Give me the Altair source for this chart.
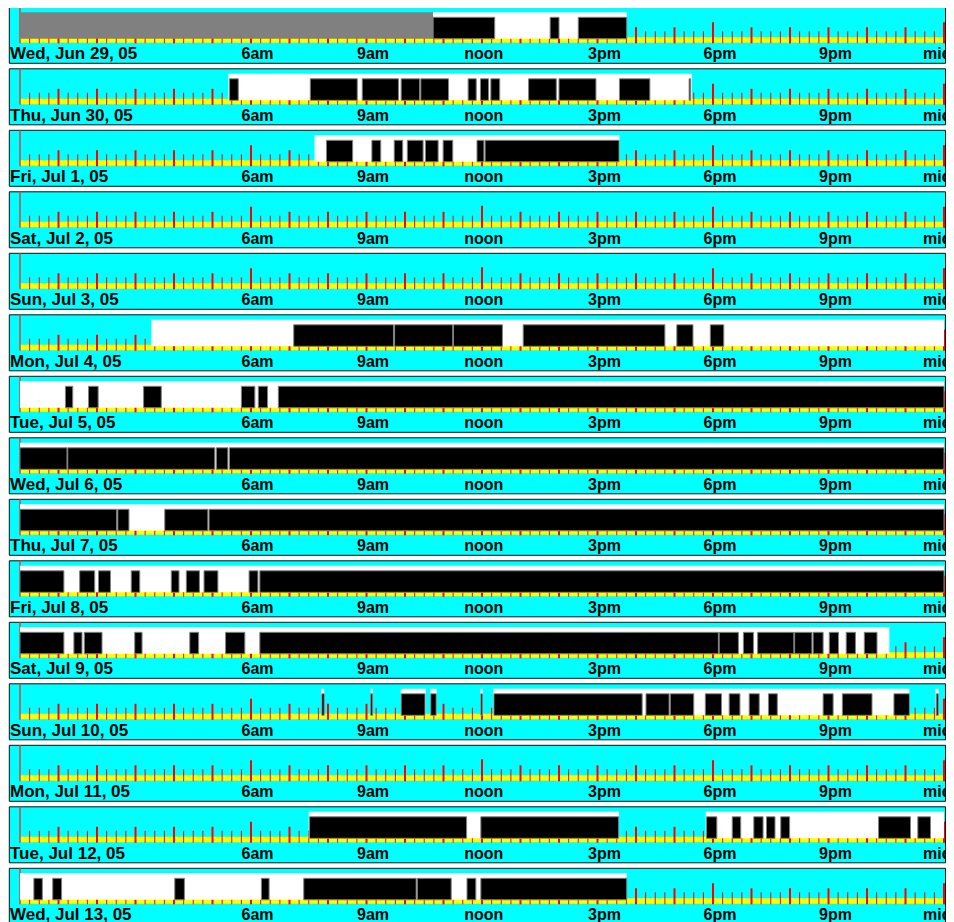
import altair as alt
import pandas as pd

days = ["Wed, Jun 29, 05", "Thu, Jun 30, 05", "Fri, Jul 1, 05", "Sat, Jul 2, 05",
        "Sun, Jul 3, 05", "Mon, Jul 4, 05", "Tue, Jul 5, 05", "Wed, Jul 6, 05",
        "Thu, Jul 7, 05", "Fri, Jul 8, 05", "Sat, Jul 9, 05", "Sun, Jul 10, 05",
        "Mon, Jul 11, 05", "Tue, Jul 12, 05", "Wed, Jul 13, 05"]

# hours of day (0-24)
gray_spans = {0: [(0.02, 10.73)]}

white_spans = {
    0: [(10.73, 15.76)],
    1: [(5.41, 17.45)],
    2: [(7.65, 15.57)],
    5: [(3.41, 24.0)],
    6: [(0.0, 24.0)],
    7: [(0.0, 24.0)],
    8: [(0.0, 24.0)],
    9: [(0.0, 24.0)],
    10: [(0.0, 22.58)],
    11: [(7.82, 7.9), (9.11, 9.17), (9.89, 10.54), (10.66, 10.82), (11.96, 12.02),
         (12.29, 23.1), (23.78, 23.86)],
    13: [(7.5, 15.56), (17.81, 24.0)],
    14: [(0.0, 15.76)],
}

black_spans = {
    0: [(10.73, 12.33), (13.77, 14.0), (14.5, 15.76)],
    1: [(5.44, 5.67), (7.54, 8.76), (8.89, 9.83), (9.9, 10.38), (10.41, 11.13),
        (11.64, 11.85), (11.96, 12.17), (12.23, 12.46), (13.21, 13.93), (14.0, 14.96),
        (15.57, 16.36), (17.38, 17.42)],
    2: [(7.96, 8.64), (9.14, 9.37), (9.72, 9.94), (10.06, 10.47), (10.53, 10.86),
        (10.99, 11.24), (11.87, 12.05), (12.08, 15.56)],
    5: [(7.11, 9.7), (9.73, 11.24), (11.26, 12.53), (13.07, 16.75), (17.06, 17.48),
        (17.93, 18.28)],
    6: [(1.18, 1.37), (1.78, 2.03), (3.21, 3.67), (5.75, 6.1), (6.19, 6.43), (6.71, 24.0)],
    7: [(0.0, 1.22), (1.24, 5.06), (5.1, 5.4), (5.44, 24.0)],
    8: [(0.0, 2.51), (2.54, 2.83), (3.76, 4.88), (4.91, 24.0)],
    9: [(0.0, 1.14), (1.55, 1.94), (2.04, 2.35), (2.89, 3.11), (3.93, 4.13), (4.32, 4.66),
        (4.78, 5.14), (5.95, 6.18), (6.23, 24.0)],
    10: [(0.0, 1.14), (1.4, 1.61), (1.67, 2.13), (2.98, 3.17), (4.41, 4.64), (5.34, 5.84),
         (6.23, 18.14), (18.16, 18.66), (18.79, 19.05), (19.16, 20.1), (20.12, 20.57),
         (20.6, 20.86), (21.02, 21.26), (21.46, 21.7), (21.93, 22.26)],
    11: [(7.84, 7.9), (9.11, 9.16), (9.9, 10.52), (10.67, 10.81), (11.97, 12.01),
         (12.31, 16.16), (16.26, 16.86), (16.89, 17.5), (17.8, 18.22), (18.42, 18.7),
         (18.94, 19.2), (19.44, 19.67), (20.86, 21.12), (21.36, 22.13), (22.7, 23.1),
         (23.8, 23.85)],
    13: [(7.52, 11.6), (11.97, 15.55), (17.83, 18.1), (18.5, 18.72), (19.06, 19.3),
         (19.39, 19.61), (19.76, 19.99), (22.3, 23.13), (23.32, 23.65)],
    14: [(0.36, 0.58), (0.85, 1.08), (4.02, 4.27), (6.27, 6.47), (7.37, 10.29),
         (10.32, 11.2), (11.61, 11.84), (11.97, 15.76)],
}

hour_labels = ["6am", "9am", "noon", "3pm", "6pm", "9pm", "midnight"]
hour_label_pos = [6, 9, 12, 15, 18, 21, 24]
tick_hours = [q / 4 for q in range(97)]


def spans_df(spans):
    rows = []
    for i, lst in spans.items():
        for s, e in lst:
            rows.append({"day": days[i], "start": s, "end": e})
    return pd.DataFrame(rows)


gray_df = spans_df(gray_spans)
white_df = spans_df(white_spans)
black_df = spans_df(black_spans)
day_df = pd.DataFrame({"day": days})


def tick_kind(h):
    if h == 0:
        return "mid0"
    if h == 12:
        return "noon"
    if h % 6 == 0:
        return "six"
    if h == int(h):
        return "hour"
    return "quarter"


tick_df = pd.DataFrame([{"day": d, "h": h, "kind": tick_kind(h)} for d in days for h in tick_hours])
label_df = pd.DataFrame([{"day": d, "h": h, "label": l}
                         for d in days for h, l in zip(hour_label_pos, hour_labels)])
span_df = pd.DataFrame([{"day": d, "start": 0, "end": 24} for d in days])

xs = alt.Scale(domain=[0, 24], range=[12, 936], nice=False, zero=False)
ys = alt.Scale(type="band", domain=days, paddingInner=0, paddingOuter=0, round=False)
Y = alt.Y("day:N", scale=ys, axis=None)

box = alt.Chart(day_df).mark_bar(size=56, yOffset=-3.45, color="#00ffff",
                                 stroke="#101010", strokeWidth=1).encode(
    x=alt.value(1.3), x2=alt.value(937.5), y=Y)

yellow = alt.Chart(span_df).mark_bar(size=5.5, yOffset=1.3, color="#ffff00").encode(
    x=alt.X("start:Q", scale=xs, axis=None), x2="end:Q", y=Y)


def ticks(kind, size, yoff, thick, color="#ff0000"):
    return alt.Chart(tick_df).transform_filter(alt.datum.kind == kind).mark_tick(
        size=size, yOffset=yoff, thickness=thick, color=color, opacity=1).encode(
        x=alt.X("h:Q", scale=xs, axis=None), y=Y)


t_q = ticks("quarter", 12, -1.45, 1)
t_h = ticks("hour", 16, -3.45, 2)
t_6 = ticks("six", 21, -5.95, 2)
t_n = ticks("noon", 22, -6.45, 2)
t_0 = ticks("mid0", 36, -13.45, 1.5, "#c84848")

gray = alt.Chart(gray_df).mark_bar(size=26.5, yOffset=-13.2, color="#808080").encode(
    x=alt.X("start:Q", scale=xs, axis=None), x2="end:Q", y=Y)
white = alt.Chart(white_df).mark_bar(size=26.5, yOffset=-13.2, color="#ffffff").encode(
    x=alt.X("start:Q", scale=xs, axis=None), x2="end:Q", y=Y)
black = alt.Chart(black_df).mark_bar(size=21.5, yOffset=-10.7, color="#000000",
                                     stroke="#808080", strokeWidth=1).encode(
    x=alt.X("start:Q", scale=xs, axis=None), x2="end:Q", y=Y)

font = "Liberation Sans"
date_text = alt.Chart(day_df).mark_text(align="left", baseline="alphabetic", dy=20.3,
                                        font=font, fontSize=17, fontWeight="bold",
                                        color="black").encode(
    x=alt.value(2), y=Y, text="day:N")

ampm_text = alt.Chart(label_df).transform_filter(
    (alt.datum.label != "noon") & (alt.datum.label != "midnight")).mark_text(
    align="left", baseline="alphabetic", dy=20.3, dx=-9.5, font=font, fontSize=16,
    fontWeight="bold", color="black").encode(
    x=alt.X("h:Q", scale=xs, axis=None), y=Y, text="label:N")

noon_text = alt.Chart(label_df).transform_filter(alt.datum.label == "noon").mark_text(
    align="left", baseline="alphabetic", dy=20.3, dx=-17.8, font=font, fontSize=16,
    fontWeight="bold", color="black").encode(
    x=alt.X("h:Q", scale=xs, axis=None), y=Y, text="label:N")

mid_text = alt.Chart(label_df).transform_filter(alt.datum.label == "midnight").mark_text(
    align="left", baseline="alphabetic", dy=20.3, dx=-21, font=font, fontSize=16,
    fontWeight="bold", color="black").encode(
    x=alt.X("h:Q", scale=xs, axis=None), y=Y, text="label:N")

chart = alt.layer(box, yellow, t_q, t_h, t_6, t_n, t_0, gray, white, black,
                  date_text, ampm_text, noon_text, mid_text).properties(
    width=938, height=922.5, padding=0, autosize="none", background="white"
).configure_view(stroke=None)

chart.save("out.html", embed_options={"renderer": "svg", "actions": False})
